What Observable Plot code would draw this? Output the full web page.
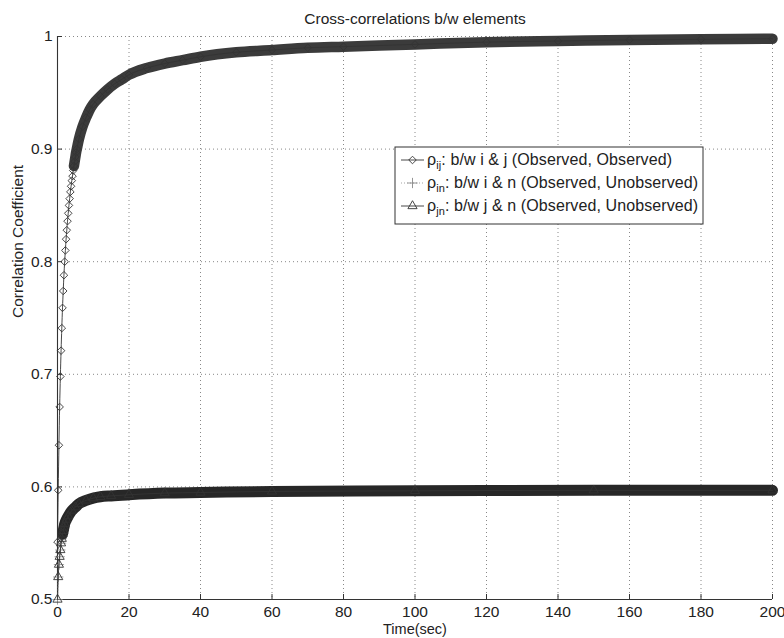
<!DOCTYPE html>
<html>
<head>
<meta charset="utf-8">
<script src="https://cdn.jsdelivr.net/npm/d3@7"></script>
<script src="https://cdn.jsdelivr.net/npm/@observablehq/plot@0.6"></script>
<style>
  body { margin: 0; background: #fff; }
  #chart { width: 784px; height: 638px; }
</style>
</head>
<body>
<div id="chart"></div>
<script>
// Cross-correlation between element i and element j (both observed)
const timeIJ = [0, 0.2, 0.4, 0.6, 0.8, 1.0, 1.2, 1.4, 1.6, 1.8, 2.0, 2.2, 2.4, 2.6, 2.8, 3.0,
  3.2, 3.4, 3.6, 3.8, 4.0, 4.2, 4.4, 4.6, 4.8, 5.0, 5.2, 5.4, 6, 7, 8, 9, 10, 12, 14, 16, 18,
  20, 25, 30, 35, 40, 50, 60, 70, 80, 100, 120, 140, 160, 180, 200];
const rhoIJ = [0.551, 0.597, 0.637, 0.671, 0.698, 0.721, 0.741, 0.759, 0.774, 0.788, 0.800,
  0.810, 0.820, 0.828, 0.836, 0.843, 0.850, 0.856, 0.862, 0.867, 0.872, 0.876, 0.881, 0.885,
  0.889, 0.893, 0.897, 0.900, 0.909, 0.920, 0.928, 0.935, 0.940, 0.947, 0.953, 0.958, 0.962,
  0.966, 0.972, 0.976, 0.979, 0.982, 0.986, 0.988, 0.990, 0.991, 0.993, 0.995, 0.996, 0.997,
  0.9975, 0.998];

// Cross-correlations with the unobserved element n
const timeN = [0, 0.2, 0.4, 0.6, 0.8, 1.0, 1.2, 1.4, 1.6, 1.8, 2.0, 2.5, 3, 4, 5, 6, 8, 10,
  12, 15, 20, 30, 40, 60, 100, 150, 200];
const rhoIN = [0.500, 0.520, 0.531, 0.538, 0.544, 0.550, 0.554, 0.558, 0.561, 0.564, 0.567,
  0.571, 0.574, 0.579, 0.582, 0.585, 0.588, 0.590, 0.5912, 0.592, 0.593, 0.5945, 0.595,
  0.596, 0.5965, 0.597, 0.597];
const rhoJN = [0.500, 0.520, 0.531, 0.538, 0.544, 0.550, 0.554, 0.558, 0.561, 0.564, 0.567,
  0.571, 0.574, 0.579, 0.582, 0.585, 0.588, 0.590, 0.5912, 0.592, 0.593, 0.5945, 0.595,
  0.596, 0.5965, 0.597, 0.597];

const xTicks = [0, 20, 40, 60, 80, 100, 120, 140, 160, 180, 200];
const yTicks = [0.5, 0.6, 0.7, 0.8, 0.9, 1];

const title = "Cross-correlations b/w elements";
const xLabel = "Time(sec)";
const yLabel = "Correlation Coefficient";
const legendItems = [
  {sym: "ρ", sub: "ij", text: ": b/w i & j (Observed, Observed)", symbol: d3.symbolDiamond2, dash: null, stroke: "#333"},
  {sym: "ρ", sub: "in", text: ": b/w i & n (Observed, Unobserved)", symbol: d3.symbolPlus, dash: "1,2", stroke: "#999"},
  {sym: "ρ", sub: "jn", text: ": b/w j & n (Observed, Unobserved)", symbol: d3.symbolTriangle, dash: null, stroke: "#333"}
];

const ij = timeIJ.map((t, i) => ({t, v: rhoIJ[i]}));
const inn = timeN.map((t, i) => ({t, v: rhoIN[i]}));
const jn = timeN.map((t, i) => ({t, v: rhoJN[i]}));

const font = "'Liberation Sans', Arial, Helvetica, sans-serif";
const markR = 3.4;

const svg = Plot.plot({
  width: 784,
  height: 638,
  marginLeft: 57,
  marginRight: 12,
  marginTop: 36,
  marginBottom: 39,
  style: {fontFamily: font, fontSize: "15.5px", color: "#222", background: "#fff"},
  x: {domain: [0, 200]},
  y: {domain: [0.5, 1]},
  marks: [
    Plot.gridX(xTicks, {stroke: "#888", strokeOpacity: 1, strokeDasharray: "1,3"}),
    Plot.gridY(yTicks, {stroke: "#888", strokeOpacity: 1, strokeDasharray: "1,3"}),
    // tick labels
    Plot.axisX(xTicks, {anchor: "bottom", tickSize: 0, tickPadding: 6, label: null, tickFormat: d => String(d)}),
    Plot.axisY(yTicks, {anchor: "left", tickSize: 0, tickPadding: 5, label: null, tickFormat: d3.format("~g")}),
    // inward tick marks
    Plot.axisX(xTicks, {anchor: "bottom", tickSize: 5, dy: -5, label: null, tickFormat: () => "", stroke: "#333"}),
    Plot.axisY(yTicks, {anchor: "left", tickSize: 5, dx: 5, label: null, tickFormat: () => "", stroke: "#333"}),
    Plot.ruleX([0], {stroke: "#333", strokeWidth: 1.1}),
    Plot.ruleY([0.5], {stroke: "#333", strokeWidth: 1.1}),

    // markers of the i–n series sit beneath the dense band
    Plot.line(inn, {x: "t", y: "v", stroke: "#999", strokeWidth: 0.9, strokeDasharray: "1,2", curve: "monotone-x"}),
    Plot.dot(inn, {x: "t", y: "v", symbol: "plus", r: markR, stroke: "#888", strokeWidth: 0.8}),

    // dense marker bands where successive markers overlap
    Plot.line(ij.filter(d => d.t >= 4.6), {x: "t", y: "v", stroke: "#3b3b3b", strokeWidth: 10.5, curve: "monotone-x", strokeLinecap: "round"}),
    Plot.line(jn.filter(d => d.t >= 1.4), {x: "t", y: "v", stroke: "#272727", strokeWidth: 11, curve: "monotone-x", strokeLinecap: "round"}),

    // series lines
    Plot.line(ij, {x: "t", y: "v", stroke: "#333", strokeWidth: 0.9, curve: "monotone-x"}),
    Plot.line(jn, {x: "t", y: "v", stroke: "#333", strokeWidth: 0.9, curve: "monotone-x"}),

    // markers
    Plot.dot(ij, {x: "t", y: "v", symbol: "diamond2", r: markR, stroke: "#333", strokeWidth: 0.9, fill: "none"}),
    Plot.dot(jn, {x: "t", y: "v", symbol: "triangle", r: markR, stroke: "#333", strokeWidth: 0.9, fill: "none"}),

    // title and axis labels
    Plot.text([title], {frameAnchor: "top", dy: -17, lineAnchor: "middle", fontSize: 15.5, fill: "#222"}),
    Plot.text([xLabel], {frameAnchor: "bottom", dy: 30, lineAnchor: "middle", fontSize: 14.5, fill: "#222"}),
    Plot.text([yLabel], {frameAnchor: "left", dx: -39, rotate: -90, lineAnchor: "middle", fontSize: 15.5, fill: "#222"})
  ]
});

// legend box
const lg = d3.select(svg).append("g")
  .attr("font-family", font).attr("fill", "#222").attr("text-anchor", "start");
const box = {x: 395, y: 147, w: 308, h: 77};
lg.append("rect")
  .attr("x", box.x).attr("y", box.y).attr("width", box.w).attr("height", box.h)
  .attr("fill", "#fff").attr("stroke", "#333").attr("stroke-width", 1);
legendItems.forEach((it, i) => {
  const cy = box.y + 13 + i * 23;
  const x0 = box.x + 6, x1 = box.x + 29;
  lg.append("line").attr("x1", x0).attr("x2", x1).attr("y1", cy).attr("y2", cy)
    .attr("stroke", it.stroke).attr("stroke-width", 0.9)
    .attr("stroke-dasharray", it.dash);
  lg.append("path")
    .attr("d", d3.symbol(it.symbol, markR * markR * Math.PI)())
    .attr("transform", `translate(${(x0 + x1) / 2},${cy})`)
    .attr("fill", "none").attr("stroke", it.dash ? "#888" : "#333").attr("stroke-width", 0.9);
  const t = lg.append("text").attr("x", box.x + 32).attr("y", cy + 5)
    .attr("font-size", 16).attr("letter-spacing", 0.1);
  t.append("tspan").text(it.sym);
  t.append("tspan").attr("dy", 4).attr("font-size", 11).text(it.sub);
  t.append("tspan").attr("dy", -4).text(it.text);
});

document.getElementById("chart").appendChild(svg);
</script>
</body>
</html>
